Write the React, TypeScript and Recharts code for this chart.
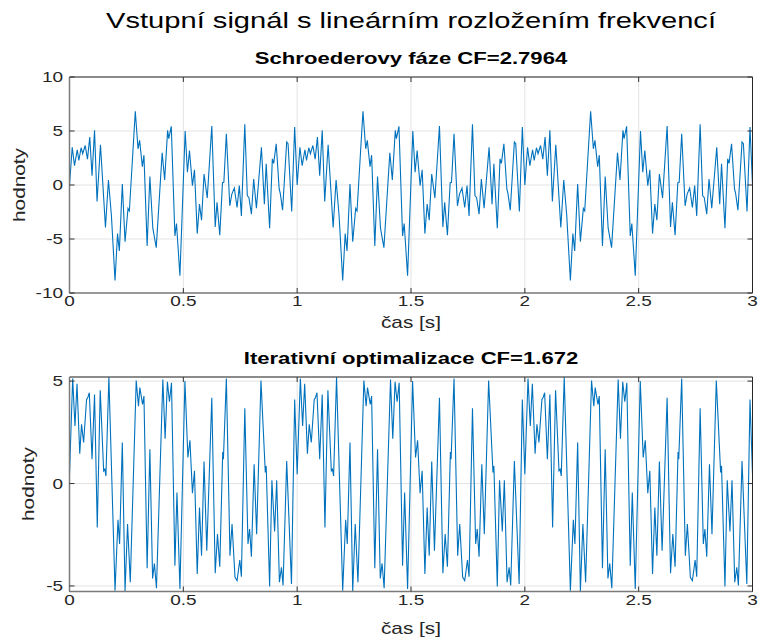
import React from 'react';
import { LineChart, Line, XAxis, YAxis, CartesianGrid } from 'recharts';

const W = 761;
const H = 642;

const FONT = '"Liberation Sans", Arial, Helvetica, sans-serif';
const INK = '#262626';
const SX = 1.3; // glyphs in this figure are drawn wide
const LINE_BLUE = '#0072BD';

const TIME_TICKS = [0, 0.5, 1, 1.5, 2, 2.5, 3];
const PERIODS = [0, 1, 2];

// one second of each signal (peaks and troughs); both repeat every second
const schroederT = [
  0.0, 0.012, 0.022, 0.034, 0.041, 0.051, 0.058, 0.069, 0.079, 0.089, 0.099, 0.11, 0.121, 0.136, 0.158,
  0.171, 0.184, 0.2, 0.211, 0.219, 0.232, 0.244, 0.257, 0.263, 0.289, 0.301, 0.308, 0.32, 0.327, 0.341,
  0.353, 0.366, 0.381, 0.407, 0.418, 0.431, 0.436, 0.447, 0.463, 0.47, 0.485, 0.508, 0.518, 0.527, 0.54,
  0.549, 0.561, 0.571, 0.58, 0.591, 0.605, 0.625, 0.64, 0.648, 0.66, 0.672, 0.678, 0.689, 0.704, 0.713,
  0.724, 0.736, 0.746, 0.755, 0.77, 0.781, 0.788, 0.799, 0.809, 0.821, 0.843, 0.856, 0.864, 0.879, 0.891,
  0.897, 0.908, 0.921, 0.926, 0.936, 0.954, 0.96, 0.976, 0.989,
];
const schroederV = [
  0.0, 3.5, 1.8, 3.26, 2.27, 3.45, 2.9, 3.66, 2.4, 4.44, 0.87, 5.06, -1.52, 3.73, -3.94,
  0.47, -2.8, -8.85, -4.5, -6.1, 0.1, -5.25, -2.17, -2.4, 6.83, 3.35, 4.13, 1.7, 2.76, -5.65,
  0.78, -4.0, -5.8, 2.98, 0.47, 5.06, 4.29, 5.43, -4.72, -3.57, -8.39, 5.0, 1.18, 3.2, -0.06,
  1.4, -4.5, -1.77, -3.26, 1.02, -1.21, 5.47, -3.88, -1.61, -4.66, 0.22, 0.25, 4.75, -1.93, -0.84,
  -0.28, -2.08, -0.06, -2.86, 5.62, -1.0, -1.15, -2.7, 0.56, -2.14, 3.5, -1.77, 1.96, -4.0, 2.42,
  2.0, 3.82, -0.37, -0.8, -2.33, 3.98, 3.82, -2.45, 5.37,
];

const iterT = [
  0.0, 0.014, 0.024, 0.033, 0.045, 0.053, 0.062, 0.075, 0.08, 0.087, 0.099, 0.11, 0.122, 0.135, 0.15,
  0.155, 0.16, 0.173, 0.2, 0.213, 0.22, 0.232, 0.244, 0.255, 0.267, 0.293, 0.303, 0.309, 0.321, 0.327,
  0.341, 0.353, 0.365, 0.373, 0.382, 0.41, 0.42, 0.43, 0.439, 0.448, 0.463, 0.472, 0.485, 0.507, 0.52,
  0.529, 0.54, 0.549, 0.561, 0.571, 0.58, 0.591, 0.603, 0.625, 0.64, 0.65, 0.66, 0.673, 0.676, 0.689,
  0.705, 0.714, 0.727, 0.736, 0.748, 0.755, 0.77, 0.784, 0.791, 0.799, 0.811, 0.822, 0.841, 0.86, 0.864,
  0.879, 0.889, 0.901, 0.91, 0.922, 0.931, 0.938, 0.954, 0.975, 0.989,
];
const iterV = [
  0.45, 5.13, 2.81, 4.87, 1.46, 2.89, 2.0, 4.1, 4.19, 4.43, 1.19, 4.35, -2.14, 4.55, 0.62,
  0.7, 0.37, 5.19, -5.23, -1.77, -2.95, 2.0, -5.26, -1.98, -4.82, 5.03, 3.78, 4.68, 3.86, 4.27,
  -4.14, 1.67, -4.63, -3.9, -5.11, 5.08, 2.19, 4.97, 3.99, 4.92, -4.01, -0.44, -5.15, 5.0, 1.27,
  2.11, -0.47, 0.62, -4.42, -1.17, -3.52, 1.07, -3.28, 4.19, -4.38, -2.47, -4.06, 1.54, 1.19, 5.13,
  -3.52, -1.98, -4.58, -4.74, -3.73, -4.55, 3.67, -2.95, -2.22, -3.57, 0.94, -2.47, 5.03, 0.54, 0.86,
  -5.02, 0.16, -2.34, 0.16, -4.82, -4.09, -4.98, 1.1, -4.9, 4.1,
];

const SCHROEDER_TICKS = [-10, -5, 0, 5, 10];
const SCHROEDER_DOMAIN: [number, number] = [-10, 10];
const ITER_TICKS = [-5, 0, 5];
const ITER_DOMAIN: [number, number] = [-5.27, 5.2];

type Row = { t: number; v: number };

function buildSeries(ts: number[], vs: number[]): Row[] {
  const rows: Row[] = [];
  for (const k of PERIODS) {
    ts.forEach((t, i) => rows.push({ t: Math.round((t + k) * 1000) / 1000, v: vs[i] }));
  }
  rows.push({ t: 3, v: vs[0] });
  return rows;
}

const schroederData = buildSeries(schroederT, schroederV);
const iterData = buildSeries(iterT, iterV);

function BottomTick(props: any) {
  const { x, y, payload } = props;
  return (
    <text
      transform={`translate(${x},${y}) scale(${SX},1)`}
      textAnchor="middle"
      dy="0.71em"
      fontSize={14.6}
      fontFamily={FONT}
      fill={INK}
    >
      {payload.value}
    </text>
  );
}

function LeftTick(props: any) {
  const { x, y, payload } = props;
  return (
    <text
      transform={`translate(${x},${y}) scale(${SX},1)`}
      textAnchor="end"
      dy="0.355em"
      fontSize={14.6}
      fontFamily={FONT}
      fill={INK}
    >
      {payload.value}
    </text>
  );
}

const blank = () => '';
const AXIS_MAIN = { stroke: '#7a7a7a', strokeWidth: 1.5 };
const AXIS_FAR = { stroke: '#262626', strokeWidth: 1 };
const TICK_LINE = { stroke: '#333333' };

interface PanelProps {
  top: number;
  height: number;
  bottomMargin: number;
  data: Row[];
  domain: [number, number];
  yTicks: number[];
}

function Panel({ top, height, bottomMargin, data, domain, yTicks }: PanelProps) {
  return (
    <div style={{ position: 'absolute', left: 0, top }}>
      <LineChart
        width={W}
        height={height}
        data={data}
        margin={{ top: 76, right: 7.5, bottom: bottomMargin, left: 19.5 }}
      >
        <CartesianGrid stroke="#e3e3e3" strokeWidth={1} />
        <XAxis
          dataKey="t"
          type="number"
          domain={[0, 3]}
          ticks={TIME_TICKS}
          interval={0}
          height={30}
          tickSize={-5}
          tickMargin={8}
          tick={BottomTick}
          axisLine={AXIS_MAIN}
          tickLine={TICK_LINE}
          allowDataOverflow
        />
        <XAxis
          xAxisId="top"
          orientation="top"
          dataKey="t"
          type="number"
          domain={[0, 3]}
          ticks={TIME_TICKS}
          interval={0}
          height={1}
          tickSize={-5}
          tickFormatter={blank}
          axisLine={AXIS_FAR}
          tickLine={TICK_LINE}
          allowDataOverflow
        />
        <YAxis
          type="number"
          domain={domain}
          ticks={yTicks}
          interval={0}
          width={50}
          tickSize={-5}
          tickMargin={11.5}
          tick={LeftTick}
          axisLine={AXIS_MAIN}
          tickLine={TICK_LINE}
          allowDataOverflow
        />
        <YAxis
          yAxisId="right"
          orientation="right"
          type="number"
          domain={domain}
          ticks={yTicks}
          interval={0}
          width={1}
          tickSize={-5}
          tickFormatter={blank}
          axisLine={AXIS_FAR}
          tickLine={TICK_LINE}
          allowDataOverflow
        />
        {/* invisible copy bound to the top/right axes so they get a scale */}
        <Line
          xAxisId="top"
          yAxisId="right"
          dataKey="v"
          type="linear"
          stroke="none"
          dot={false}
          activeDot={false}
          isAnimationActive={false}
        />
        <Line
          dataKey="v"
          type="linear"
          stroke={LINE_BLUE}
          strokeWidth={1.1}
          dot={false}
          isAnimationActive={false}
        />
      </LineChart>
    </div>
  );
}

function Label({ x, y, size, bold, children }: { x: number; y: number; size: number; bold?: boolean; children: React.ReactNode }) {
  return (
    <text
      transform={`translate(${x},${y}) scale(${SX},1)`}
      textAnchor="middle"
      fontSize={size}
      fontWeight={bold ? 'bold' : 'normal'}
      fontFamily={FONT}
      fill={bold ? '#000' : INK}
    >
      {children}
    </text>
  );
}

function YLabel({ x, y }: { x: number; y: number }) {
  return (
    <text
      transform={`translate(${x},${y}) rotate(-90) scale(${SX},1)`}
      textAnchor="middle"
      y={4.2}
      fontSize={16}
      fontFamily={FONT}
      fill={INK}
    >
      hodnoty
    </text>
  );
}

export default function App() {
  return (
    <div style={{ position: 'absolute', left: 0, top: 0, width: W, height: H, background: '#fff' }}>
      <Panel top={0} height={330} bottomMargin={7} data={schroederData} domain={SCHROEDER_DOMAIN} yTicks={SCHROEDER_TICKS} />
      <Panel top={300} height={342} bottomMargin={20.5} data={iterData} domain={ITER_DOMAIN} yTicks={ITER_TICKS} />
      <svg
        width={W}
        height={H}
        style={{ position: 'absolute', left: 0, top: 0, pointerEvents: 'none' }}
      >
        <text
          transform={`translate(411,28) scale(${SX},1)`}
          textAnchor="middle"
          fontSize={22.4}
          fontFamily={FONT}
          fill="#000"
        >
          Vstupní signál s lineárním rozložením frekvencí
        </text>
        <Label x={411} y={64} size={17} bold>Schroederovy fáze CF=2.7964</Label>
        <Label x={411} y={328} size={16}>čas [s]</Label>
        <YLabel x={20.5} y={185} />
        <Label x={411} y={364} size={17} bold>Iterativní optimalizace CF=1.672</Label>
        <Label x={411} y={634} size={16}>čas [s]</Label>
        <YLabel x={30} y={484} />
      </svg>
    </div>
  );
}
